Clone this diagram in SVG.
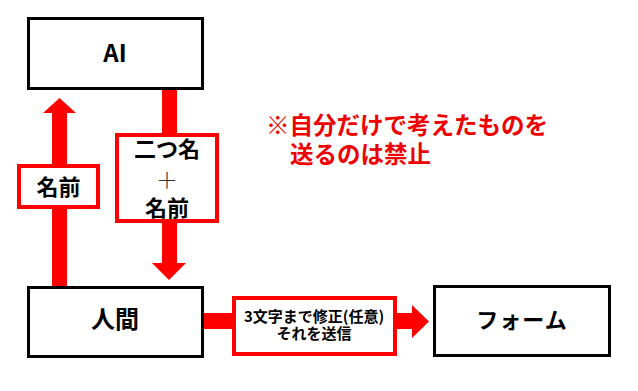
<svg xmlns="http://www.w3.org/2000/svg" width="638" height="391" viewBox="0 0 638 391">
<style>
.box{fill:#fff;stroke:#000;stroke-width:3}
.lbl{fill:#fff;stroke:#ff0000;stroke-width:4}
.arr{fill:#ff0000}
text{font-family:"Noto Sans CJK JP","Noto Sans",sans-serif;font-weight:bold;text-anchor:middle;fill:#000}
.note{fill:#ee0000;text-anchor:start;font-size:23.5px}
.plus{font-weight:300;fill:#333}
</style>
<rect width="638" height="391" fill="#fff"/>
<g id="connectors">
<polygon class="arr" points="52,286 52,113 43,113 59.5,98 76,113 67,113 67,286"/>
<polygon class="arr" points="162,89 177,89 177,263 186,263 169,280 152,263 162,263"/>
<polygon class="arr" points="203,313 412,313 412,305 429,321.5 412,338 412,329 203,329"/>
</g>
<g id="node-ai">
<rect class="box" x="28.5" y="18.5" width="174" height="70"/>
<text x="115" y="62" font-size="24">AI</text>
</g>
<g id="node-human">
<rect class="box" x="28.5" y="287.5" width="174" height="69"/>
<text x="115" y="328" font-size="24">人間</text>
</g>
<g id="node-form">
<rect class="box" x="434.5" y="286.5" width="175" height="69"/>
<text x="522" y="328" font-size="22" letter-spacing="1">フォーム</text>
</g>
<g id="label-name">
<rect class="lbl" x="19" y="166" width="79" height="41"/>
<text x="58.5" y="195" font-size="22">名前</text>
</g>
<g id="label-nickname">
<rect class="lbl" x="117" y="135" width="100" height="86"/>
<text font-size="22"><tspan x="167" y="157">二つ名</tspan><tspan class="plus" x="167" y="188">＋</tspan><tspan x="167" y="216">名前</tspan></text>
</g>
<g id="label-send">
<rect class="lbl" x="234" y="298" width="161" height="56"/>
<text font-size="15"><tspan x="314" y="322">3文字まで修正(任意)</tspan><tspan x="314" y="339">それを送信</tspan></text>
</g>
<g id="note">
<text class="note" x="266" y="134">※自分だけで考えたものを</text>
<text class="note" x="290" y="163">送るのは禁止</text>
</g>
</svg>
